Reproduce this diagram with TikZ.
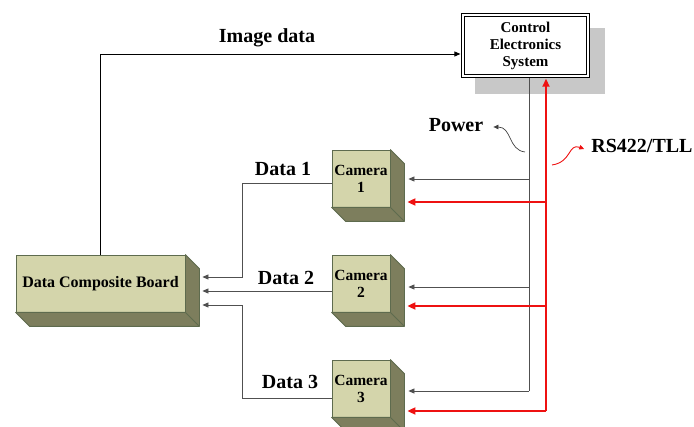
\documentclass[tikz,border=0pt]{standalone}
\usepackage{fontspec}
\setmainfont{Liberation Serif}
\usetikzlibrary{arrows.meta,backgrounds}
\definecolor{boxface}{HTML}{D4D5AB}
\definecolor{boxside}{HTML}{7D7E5D}
\definecolor{boxline}{HTML}{5E6B4E}
\definecolor{shadowgray}{HTML}{C8C8C8}
\definecolor{wiregray}{HTML}{505050}
\definecolor{sigred}{HTML}{EE1111}
\newcommand{\ExtrudeBox}[1]{%
  \filldraw[boxsidestyle] (#1.north east) -- ++(14,14) -- ([shift={(14,14)}]#1.south east)
    -- ([shift={(14,14)}]#1.south west) -- (#1.south west) -- (#1.south east) -- cycle;
  \draw[boxsidestyle] (#1.south east) -- ++(14,14);
}
\tikzset{
  camerabox/.style={draw=boxline, fill=boxface, line width=0.8pt, minimum width=58pt,
    minimum height=57pt, inner sep=0pt, align=center,
    font=\fontsize{15.5}{17}\selectfont\bfseries},
  boardbox/.style={camerabox, minimum width=169pt, font=\fontsize{16}{18}\selectfont\bfseries},
  boxsidestyle/.style={draw=boxline, fill=boxside, line width=0.8pt, line join=round},
  ctrlbox/.style={draw=black, fill=white, line width=1.3pt,
    minimum width=127.7pt, minimum height=63.7pt, inner sep=0pt, align=center,
    font=\fontsize{15}{17}\selectfont\bfseries},
  innerframe/.style={draw=black, line width=0.9pt},
  biglabel/.style={font=\fontsize{20}{22}\selectfont\bfseries, inner sep=0pt},
  blacktip/.style={-{Triangle[length=6pt,width=5pt]}},
  redtip/.style={-{Triangle[length=8pt,width=7pt]}},
  wire/.style={draw=wiregray, line width=0.7pt},
  powerwire/.style={wire, blacktip},
  datawire/.style={wire, blacktip},
  imagewire/.style={draw=black, line width=0.7pt, blacktip},
  redwire/.style={draw=sigred, line width=1.8pt},
  redbranch/.style={redwire, redtip},
  curvearrow/.style={draw=black!75, line width=0.7pt, -{Triangle[length=5pt,width=4.5pt]}},
  redcurve/.style={draw=sigred, line width=0.9pt, -{Triangle[length=5pt,width=4.5pt]}},
}
\begin{document}
\begin{tikzpicture}[x=1pt,y=-1pt]
\useasboundingbox (0,0) rectangle (694,427);
\clip (0,0) rectangle (694,427);

% control box with shadow and double frame
\node[ctrlbox] (ctrl) at (525.5,45.5) {Control\\Electronics\\System};
\draw[innerframe] ([shift={(3.2,3.2)}]ctrl.north west) rectangle ([shift={(-3.2,-3.2)}]ctrl.south east);
\begin{pgfonlayer}{background}
  \fill[shadowgray] ([shift={(14,15)}]ctrl.north west) rectangle ([shift={(15,16)}]ctrl.south east);
\end{pgfonlayer}

% cameras and board
\node[camerabox] (cam1) at (361,178.5) {Camera\\1};
\node[camerabox] (cam2) at (361,283.5) {Camera\\2};
\node[camerabox] (cam3) at (361,388.5) {Camera\\3};
\node[boardbox] (board) at (100.5,283.5) {Data Composite Board};
\ExtrudeBox{cam1}
\ExtrudeBox{cam2}
\ExtrudeBox{cam3}
\ExtrudeBox{board}

% labels
\node[biglabel] (imglabel) at (267,38) {Image data};
\node[biglabel] (d1label) at (283,169) {Data 1};
\node[biglabel] (d2label) at (286,278) {Data 2};
\node[biglabel] (d3label) at (290,382) {Data 3};
\node[biglabel] (power) at (456,125) {Power};
\node[biglabel] (rs) at (642,146) {RS422/TLL};

% image data
\draw[imagewire] (board.north) |- ([yshift=-8.5pt,xshift=-0.6pt]ctrl.west);

% power bus
\coordinate (pb1) at (529,179);
\coordinate (pb2) at (529,287);
\coordinate (pb3) at (529,391);
\draw[wire] (ctrl.south -| pb3) -- (pb3);
\draw[powerwire] (pb1) -- ([xshift=18pt]cam1.east |- pb1);
\draw[powerwire] (pb2) -- ([xshift=18pt]cam2.east |- pb2);
\draw[powerwire] (pb3) -- ([xshift=18pt]cam3.east |- pb3);

% red bus
\coordinate (rb1) at (546,202);
\coordinate (rb2) at (546,306);
\coordinate (rb3) at (546,411);
\draw[redwire, redtip, shorten >=0.7pt] (rb3) -- (rb3 |- ctrl.south);
\draw[redbranch] (rb1) -- ([xshift=17pt]cam1.east |- rb1);
\draw[redbranch] (rb2) -- ([xshift=17pt]cam2.east |- rb2);
\draw[redbranch] (rb3) -- ([xshift=17pt]cam3.east |- rb3);

% data lines
\coordinate (bend1) at (242,277);
\coordinate (bend3) at (242,305);
\draw[datawire] ([yshift=-4.5pt]cam1.west) -| (bend1) -- ([xshift=17pt]board.east |- bend1);
\draw[datawire] ([yshift=-7.5pt]cam2.west) -- ([xshift=17pt,yshift=-7.5pt]board.east);
\draw[datawire] ([yshift=-9.5pt]cam3.west) -| (bend3) -- ([xshift=17pt]board.east |- bend3);

% curved label arrows
\coordinate (pwrstart) at (525,152);
\draw[curvearrow] (pwrstart) .. controls (508,150) and (512,127) .. ([xshift=10pt,yshift=-2pt]power.east);
\coordinate (rsstart) at (552,165);
\draw[redcurve] (rsstart) .. controls (572,162) and (568,143) .. ([xshift=-7pt,yshift=-3pt]rs.west);
\end{tikzpicture}
\end{document}
